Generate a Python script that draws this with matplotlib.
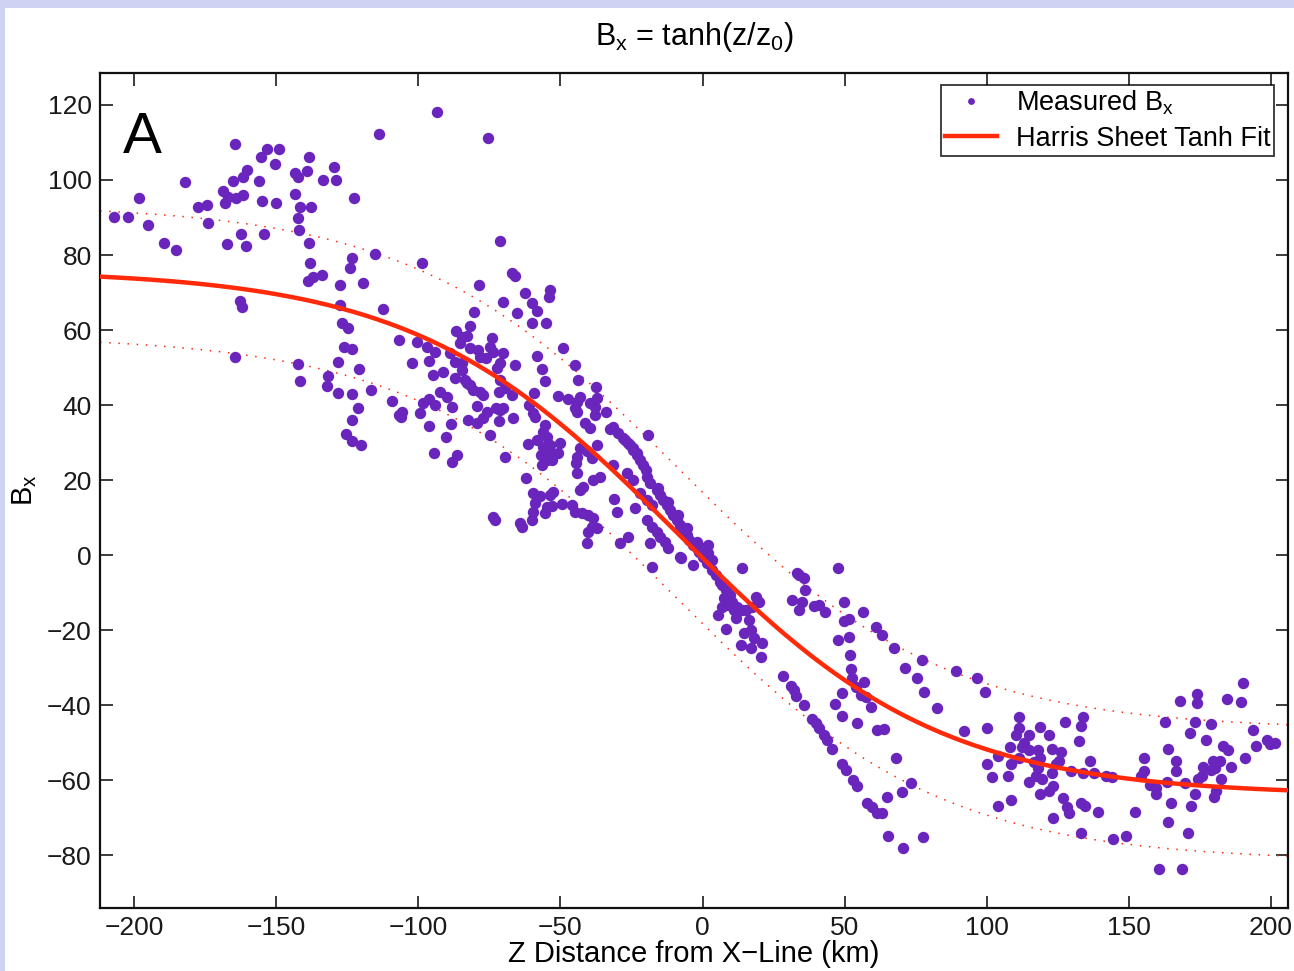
import numpy as np
import matplotlib
matplotlib.use("Agg")
import matplotlib.pyplot as plt
from matplotlib.patches import Rectangle

plt.rcParams['font.family'] = ['Liberation Sans', 'DejaVu Sans']
plt.rcParams['mathtext.fontset'] = 'custom'
plt.rcParams['mathtext.rm'] = 'Liberation Sans'

# ---- measured Bx (z in km, Bx) ----
z_meas = [
    -207.0, -202.1, -198.2, -195.1, -189.5, -185.3, -182.1, -177.5, -174.4, -174.0,
    -168.8, -168.1, -167.0, -165.3, -164.2, -161.8, -161.8, -160.4, -167.4, -162.5,
    -160.7, -156.1, -155.1, -154.4, -155.4, -150.5, -150.2, -143.5, -142.5, -139.3,
    -138.6, -143.5, -141.8, -137.9, -142.5, -142.1, -138.6, -133.7, -128.8, -129.8,
    -138.2, -138.9, -137.2, -134.0, -127.7, -123.5, -123.9, -119.3, -122.5, -115.4,
    -112.3, -127.4, -162.8, -162.1, -127.0, -124.9, -126.0, -123.2, -164.6, -142.5,
    -141.8, -128.4, -131.9, -132.3, -128.4, -123.2, -120.7, -116.5, -121.1, -123.5,
    -125.6, -123.2, -120.0, -109.1, -106.7, -106.7, -164.6, -153.3, -149.1, -113.7,
    -93.3, -98.6, -75.4, -71.2, -67.0, -66.0, -78.6,
    # middle-left cluster
    -80.4, -70.2, -65.3, -60.0, -58.2, -53.7, -54.0, -62.5, -60.0, -55.1,
    -81.8, -100.4, -96.8, -94.0, -86.7, -84.6, -82.8, -85.3, -81.8, -78.9,
    -74.0, -74.7, -73.7, -70.2, -71.2, -72.3, -76.1, -78.2, -88.8, -87.0,
    -84.6, -84.6, -102.1, -96.1, -94.7, -91.2, -87.0, -83.5, -82.8, -81.8,
    -80.7, -78.2, -77.2, -66.0, -58.2, -56.5, -55.4, -49.1, -44.9, -43.9,
    -105.6, -106.0, -99.3, -98.2, -96.1, -94.0, -92.3, -89.8, -88.1, -96.1,
    -90.2, -88.4, -82.5, -79.3, -79.3, -75.8, -72.6, -70.2, -71.6, -69.5,
    -67.0, -71.2, -71.6, -66.7, -77.2, -74.7, -59.3, -61.1, -59.6, -58.9,
    -55.4, -56.1, -54.7, -61.4, -58.2, -56.1, -53.7, -50.2, -56.8, -54.7,
    -56.5, -50.9, -94.4, -86.3, -88.1, -69.5, -62.1, -44.2, -44.2, -47.4,
    -44.9, -44.2, -73.7, -73.0,
    # center
    -71.2, -50.9, -44.2, -43.2, -39.6, -37.9, -37.2, -37.5, -34.0, -41.4,
    -39.6, -37.9, -54.0, -53.0, -43.2, -40.7, -44.6, -38.9, -38.6, -36.1,
    -42.1, -43.2, -59.6, -57.2, -53.7, -52.6, -58.9, -59.6, -60.0, -54.7,
    -55.4, -53.0, -49.5, -46.0, -44.9, -42.5, -40.4, -38.6, -38.9, -40.4,
    -37.2, -64.2, -63.5, -40.7,
    -32.6, -31.6, -29.8, -28.1, -27.4, -26.3, -25.6, -24.6, -24.6, -23.2,
    -23.2, -22.1, -21.1, -20.0, -19.6, -18.6, -19.3, -37.2, -31.6, -26.7,
    -24.6, -31.2, -30.2, -23.9, -22.1, -19.6, -17.9,
    -16.1, -15.1, -14.0, -12.6, -11.6, -10.5, -9.1, -8.1, -7.0, -5.6,
    -4.6, -3.5, -2.1, -1.1, -15.8, -12.3, -8.8, -5.3, -1.8, 0.0,
    1.8, 3.5, -19.6, -17.9, -16.1, -15.1, -13.3, -18.6, -26.3, -29.1,
    -12.3, -8.1, 2.1, -3.5, -17.9,
    -8.1, -7.0, -5.6, -3.5, -2.1, 0.0, -7.4, 1.4, 3.2, 4.9,
    6.0, 6.7, 8.4, 9.5, 7.7, 10.5, 12.3, 14.0, 11.2, 8.8,
    6.7, 5.3, 11.9, 16.5, 15.4, 17.5, 18.9, 20.0, 14.0, 8.4,
    14.7, 17.2, 18.2, 21.1, 13.7, 17.2, 20.7, 34.0, 35.8, 36.1,
    31.6, 35.1, 34.0, 39.3, 41.1, 43.2,
    # lower-center
    47.7, 49.8, 56.5, 51.6, 49.8, 61.1, 63.2, 47.7, 51.6, 67.4,
    51.9, 52.3, 52.6, 56.8, 54.0, 55.8, 57.5, 49.1, 46.7, 59.3,
    49.1, 54.4, 61.4, 63.9, 71.2, 77.2, 75.4, 77.9, 82.5, 89.1,
    96.5, 91.9, 68.1, 64.9, 70.2, 73.3, 65.3, 77.5, 70.5,
    28.4, 31.2, 32.3, 33.0, 35.8, 38.6, 40.0, 41.1, 42.8, 43.9,
    45.6, 49.1, 50.5, 53.0, 54.4, 57.9, 59.6, 61.4, 63.2, 33.3,
    # right clusters
    99.3, 100.0, 111.2, 111.2, 110.2, 113.0, 114.7, 118.9, 121.8, 108.1,
    112.3, 114.7, 118.2, 122.8, 126.0, 125.3, 103.9, 100.0, 108.4, 111.2,
    116.5, 118.9, 118.2, 122.8, 124.2, 101.8, 107.4, 114.7, 117.5, 119.3,
    118.6, 121.8, 123.2, 127.7, 133.7, 133.3, 132.3, 136.5, 129.5, 133.7,
    137.9, 141.8, 143.9, 108.4, 103.9, 126.7, 128.1, 128.8, 133.0, 134.7,
    139.3, 123.2, 133.0, 144.6,
    152.3, 149.1, 160.7, 168.8, 155.4, 155.4, 154.4, 157.5, 159.6, 159.6,
    163.5, 164.9, 163.9, 170.9, 171.9, 173.3, 169.8, 174.4, 175.8, 176.1,
    179.6, 182.1, 180.4, 178.9, 182.5, 180.7, 180.0, 166.7, 166.7, 163.9,
    162.8, 168.1, 174.0, 174.0, 173.3, 178.9, 171.6, 177.2, 183.2, 184.9,
    186.0, 184.6, 189.5, 190.2, 193.7, 194.7, 190.9, 198.6, 201.4, 199.6,
]
bx_meas = [
    90.1, 90.1, 95.2, 88.0, 83.2, 81.3, 99.5, 92.8, 93.3, 88.5,
    97.1, 93.9, 95.5, 99.7, 95.2, 96.0, 100.8, 102.7, 82.9, 85.6,
    82.4, 99.7, 94.4, 85.6, 106.1, 104.3, 93.9, 101.9, 100.8, 102.4,
    106.1, 96.3, 92.8, 92.8, 89.9, 86.7, 83.2, 100.0, 100.0, 103.5,
    77.9, 73.1, 74.1, 74.7, 72.0, 79.2, 76.5, 72.5, 95.2, 80.3,
    65.6, 66.7, 67.7, 66.1, 61.9, 60.5, 55.5, 54.9, 52.8, 50.9,
    46.4, 51.5, 47.7, 45.1, 43.2, 42.9, 49.6, 44.0, 39.2, 36.0,
    32.3, 30.4, 29.3, 41.1, 57.3, 37.3, 109.6, 108.3, 108.3, 112.3,
    118.1, 77.9, 111.2, 83.7, 75.2, 74.4, 72.0,
    # middle-left cluster
    64.8, 67.5, 64.5, 67.2, 65.1, 70.7, 68.8, 69.9, 61.9, 61.9,
    61.1, 56.8, 55.5, 54.1, 59.7, 58.1, 58.4, 56.5, 55.2, 54.7,
    57.9, 55.5, 54.1, 53.9, 51.2, 49.9, 52.5, 52.8, 53.9, 51.5,
    51.2, 49.3, 51.2, 51.7, 48.0, 48.8, 47.2, 46.7, 45.9, 45.3,
    44.0, 43.5, 42.7, 50.7, 53.1, 49.6, 46.4, 55.2, 50.7, 46.7,
    38.1, 36.8, 37.9, 40.5, 41.6, 40.0, 43.5, 42.1, 39.5, 34.4,
    31.5, 34.9, 36.0, 35.2, 39.7, 38.1, 39.2, 39.2, 43.5, 44.5,
    42.7, 46.7, 35.7, 36.5, 36.5, 32.0, 43.2, 40.0, 37.9, 36.8,
    34.7, 32.8, 31.5, 29.6, 30.7, 28.8, 29.3, 29.9, 26.7, 25.3,
    24.0, 27.2, 27.2, 26.7, 24.8, 26.1, 20.5, 26.1, 21.9, 41.6,
    39.2, 38.1, 10.1, 9.3,
    # center
    38.7, 42.4, 40.8, 42.1, 40.5, 39.5, 41.9, 44.8, 38.1, 35.2,
    33.9, 37.3, 28.0, 25.3, 28.5, 27.7, 24.5, 25.9, 20.0, 20.8,
    18.1, 17.3, 16.5, 15.7, 16.0, 16.8, 13.9, 11.5, 9.3, 12.8,
    11.2, 13.1, 13.6, 13.3, 11.5, 11.2, 10.7, 9.9, 7.5, 6.1,
    7.2, 8.5, 7.5, 3.2,
    33.6, 34.1, 32.5, 31.2, 30.7, 29.9, 29.3, 28.5, 28.0, 27.2,
    26.7, 25.3, 24.0, 22.7, 20.8, 19.2, 32.0, 29.3, 24.0, 21.9,
    20.0, 14.9, 11.5, 12.5, 16.5, 14.7, 13.3,
    17.3, 16.0, 14.7, 13.3, 12.0, 10.7, 9.3, 8.0, 6.7, 5.3,
    4.0, 2.7, 1.9, 0.8, 17.9, 14.1, 10.7, 7.2, 3.5, 1.9,
    0.5, -1.3, 9.3, 7.5, 6.1, 4.8, 3.5, 3.2, 4.8, 3.2,
    1.9, -0.5, 2.7, -2.7, -3.2,
    6.7, 5.9, 4.8, 3.2, 2.1, -0.5, -0.8, -2.1, -4.0, -5.3,
    -7.2, -8.0, -9.3, -10.7, -11.5, -12.5, -13.9, -14.7, -14.7, -13.3,
    -13.9, -16.0, -16.8, -17.3, -14.7, -13.9, -11.2, -12.5, -3.5, -19.7,
    -20.8, -20.0, -22.1, -23.5, -24.0, -24.8, -27.2, -5.3, -6.1, -9.3,
    -12.0, -12.5, -14.7, -13.6, -13.3, -15.2,
    # lower-center
    -3.5, -12.5, -15.2, -17.1, -17.6, -19.2, -21.3, -22.7, -21.9, -24.8,
    -26.7, -30.4, -32.8, -33.9, -35.2, -37.3, -37.9, -36.8, -39.7, -40.5,
    -42.9, -44.8, -46.7, -46.4, -30.1, -28.0, -32.8, -36.5, -40.8, -30.9,
    -32.8, -46.9, -54.1, -64.3, -63.2, -60.8, -74.9, -75.2, -77.9,
    -32.3, -34.9, -36.0, -37.6, -40.0, -43.7, -44.8, -46.1, -48.0, -49.3,
    -51.7, -55.5, -57.1, -60.0, -61.6, -65.9, -67.2, -68.8, -68.8, -4.8,
    # right clusters
    -36.5, -46.1, -43.2, -46.1, -48.0, -49.9, -48.0, -45.9, -48.0, -51.2,
    -51.2, -52.0, -52.0, -51.7, -52.3, -54.7, -53.6, -55.5, -55.5, -54.1,
    -55.2, -53.9, -56.8, -57.9, -55.5, -59.2, -58.9, -60.5, -58.9, -59.5,
    -63.5, -62.9, -61.6, -44.5, -43.2, -45.6, -49.6, -54.9, -57.6, -57.9,
    -57.9, -58.7, -59.2, -65.1, -66.9, -64.8, -67.2, -68.8, -65.9, -66.7,
    -68.5, -70.1, -74.1, -75.7,
    -68.3, -74.7, -83.7, -83.5, -53.9, -57.6, -58.7, -61.3, -61.9, -63.7,
    -60.5, -65.9, -71.2, -74.1, -66.9, -63.5, -60.8, -59.7, -58.7, -56.3,
    -54.7, -54.7, -56.8, -57.3, -59.5, -62.7, -64.3, -54.9, -57.6, -51.7,
    -44.5, -38.9, -37.1, -39.5, -44.5, -45.1, -47.5, -49.3, -50.7, -52.0,
    -56.5, -38.4, -39.2, -34.1, -46.7, -50.9, -53.9, -49.3, -49.9, -50.4,
]

# ---- Harris sheet tanh fit parameters ----
fit_offset = 6.0      # nT
fit_amp = 70.0        # nT
fit_center = -9.0     # km
fit_width = 93.0      # km
band_halfwidth = 17.5  # nT

x_ticks = [-200, -150, -100, -50, 0, 50, 100, 150, 200]
y_ticks = [-80, -60, -40, -20, 0, 20, 40, 60, 80, 100, 120]

purple = '#6a25bd'
red = '#ff2a0a'

fig = plt.figure(figsize=(12.94, 9.71), dpi=100, facecolor='#cfd2f2')
fig.patches.append(Rectangle((5 / 1294, 0), 1, 1 - 8 / 971, transform=fig.transFigure,
                             facecolor='white', edgecolor='none', zorder=-10))
ax = fig.add_axes([100 / 1294, 1 - 908 / 971, (1288 - 100) / 1294, (908 - 73) / 971])

zz = np.linspace(-212, 206, 400)
fit = fit_offset - fit_amp * np.tanh((zz - fit_center) / fit_width)

ax.plot(z_meas, bx_meas, 'o', color=purple, markersize=8.2, markeredgewidth=0,
        label=r'Measured B$_{\mathrm{x}}$', zorder=3)
ax.plot(zz, fit, '-', color=red, lw=3.2, label='Harris Sheet Tanh Fit', zorder=4)
ax.plot(zz, fit + band_halfwidth, color=red, lw=1.1, ls=(0, (1, 5)), zorder=2)
ax.plot(zz, fit - band_halfwidth, color=red, lw=1.1, ls=(0, (1, 5)), zorder=2)

ax.set_xlim(-212, 206)
ax.set_ylim(-94, 128.5)
ax.set_xticks(x_ticks)
ax.set_yticks(y_ticks)
ax.tick_params(direction='in', length=9, width=1.2, top=True, right=True,
               labelsize=19, pad=6, colors='#1a1a1a')
ax.tick_params(axis='y', pad=6)
for s in ax.spines.values():
    s.set_linewidth(1.6)
    s.set_color('#111111')

ax.set_title(r'B$_{\mathrm{x}}$ = tanh(z/z$_{\mathrm{0}}$)', fontsize=22, pad=20)
ax.set_xlabel('Z Distance from X\u2212Line (km)', fontsize=21, labelpad=0)
ax.set_ylabel(r'B$_{\mathrm{x}}$', fontsize=21, labelpad=6)
ax.text(0.019, 0.955, 'A', transform=ax.transAxes, fontsize=42, va='top', ha='left')

leg = ax.legend(loc='upper right', bbox_to_anchor=(0.9885, 0.986), fontsize=19.5,
                frameon=True, fancybox=False, edgecolor='black', borderpad=0.15,
                handlelength=1.9, handletextpad=0.7, labelspacing=0.32, markerscale=0.6,
                borderaxespad=0.0)
leg.get_frame().set_linewidth(1.3)

fig.savefig('out.png', dpi=100, facecolor=fig.get_facecolor())
